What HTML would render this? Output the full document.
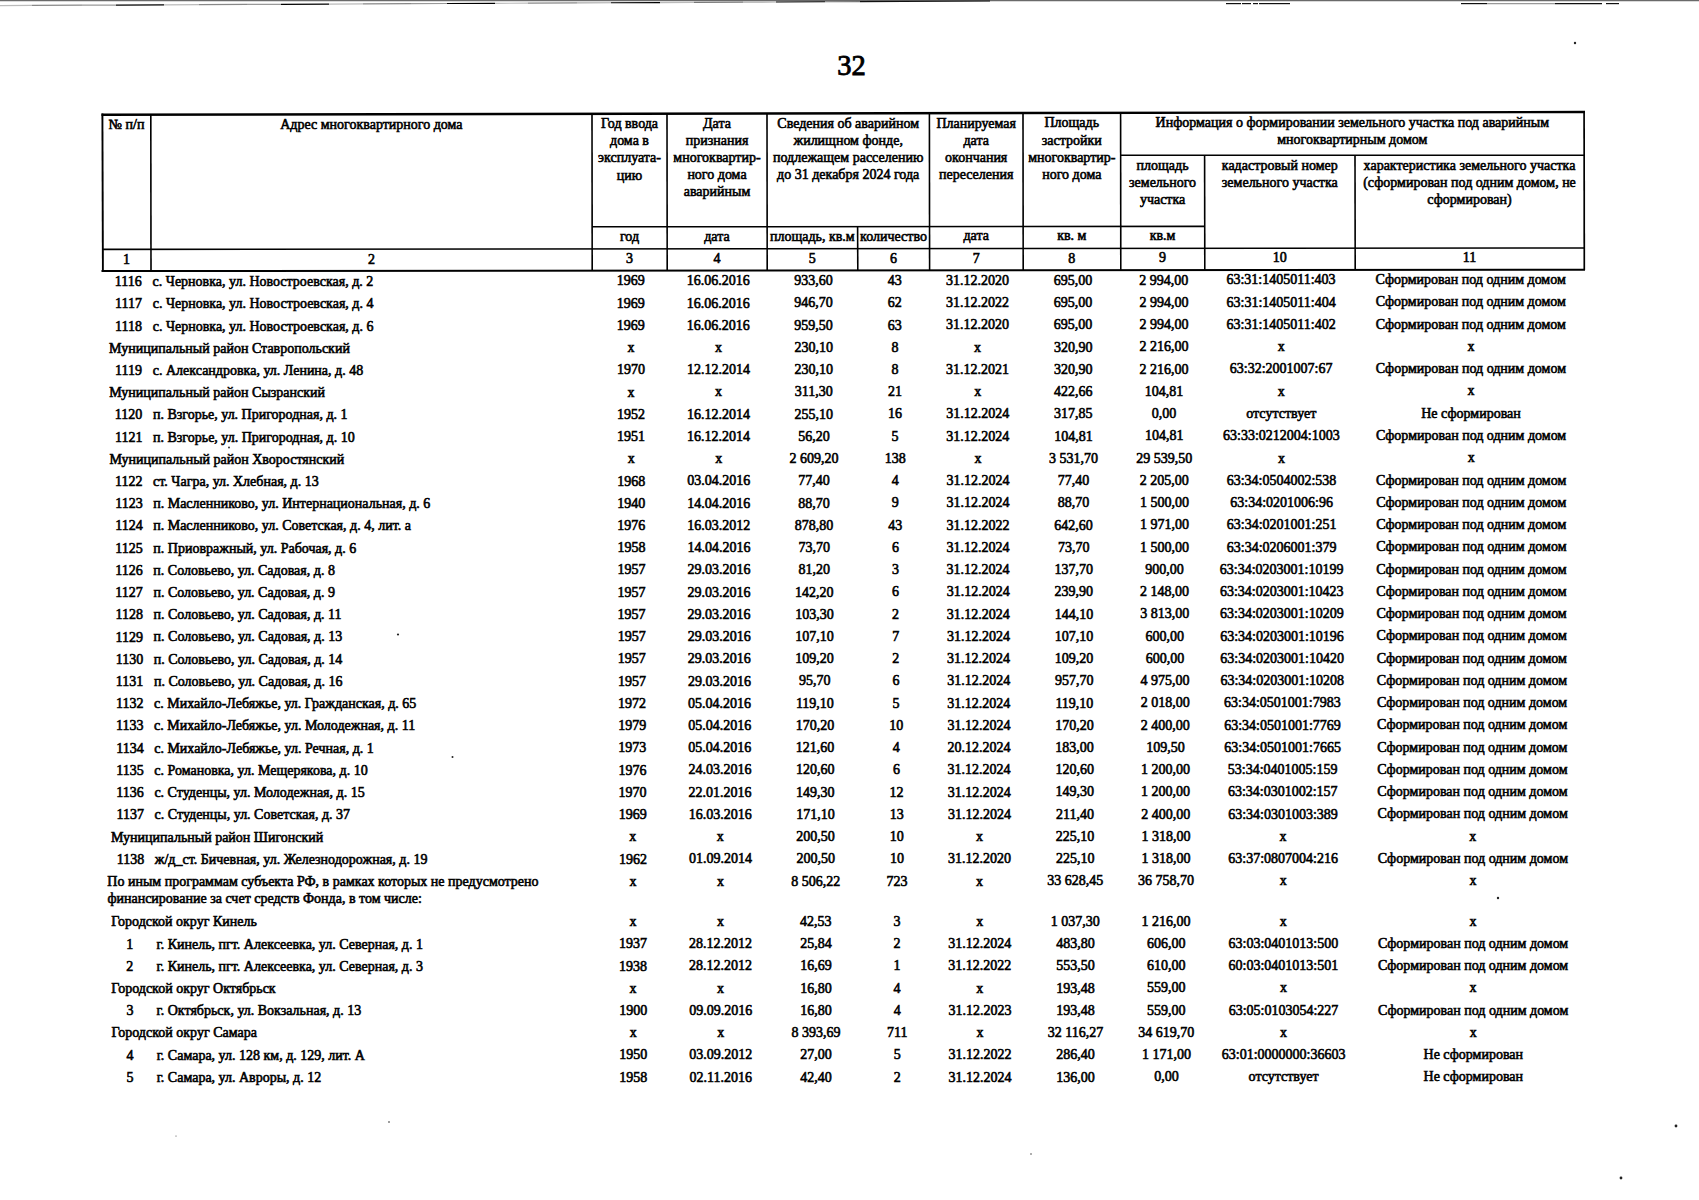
<!DOCTYPE html>
<html><head><meta charset="utf-8"><style>
html,body{margin:0;padding:0;background:#fff;}
body{width:1699px;height:1200px;position:relative;overflow:hidden;font-family:"Liberation Serif",serif;color:#000;}
.t{position:absolute;white-space:nowrap;font-size:14px;line-height:14px;-webkit-text-stroke:0.6px #000;}
.t.h{font-size:14px;line-height:14px;}
.s{position:absolute;left:0;top:0;}
.pg{position:absolute;left:801.5px;top:51.5px;width:100px;text-align:center;font-size:28.5px;line-height:28px;-webkit-text-stroke:0.9px #000;}
</style></head><body>
<div class="pg">32</div>
<svg class="s" width="1699" height="1200" viewBox="0 0 1699 1200"><line x1="0" y1="0.6" x2="1699" y2="0.6" stroke="#6a6a6a" stroke-width="1.2"/><line x1="0" y1="5.60" x2="32" y2="5.45" stroke="#bbb" stroke-width="1.2"/><line x1="32" y1="5.45" x2="82" y2="5.22" stroke="#888" stroke-width="1.2"/><line x1="82" y1="5.22" x2="116" y2="5.06" stroke="#999" stroke-width="1.2"/><line x1="116" y1="5.06" x2="164" y2="4.84" stroke="#000" stroke-width="1.2"/><line x1="164" y1="4.84" x2="199" y2="4.68" stroke="#bbb" stroke-width="1.2"/><line x1="199" y1="4.68" x2="247" y2="4.45" stroke="#888" stroke-width="1.2"/><line x1="247" y1="4.45" x2="281" y2="4.29" stroke="#999" stroke-width="1.2"/><line x1="281" y1="4.29" x2="329" y2="4.07" stroke="#000" stroke-width="1.2"/><line x1="329" y1="4.07" x2="363" y2="3.91" stroke="#bbb" stroke-width="1.2"/><line x1="363" y1="3.91" x2="411" y2="3.69" stroke="#888" stroke-width="1.2"/><line x1="411" y1="3.69" x2="447" y2="3.52" stroke="#999" stroke-width="1.2"/><line x1="447" y1="3.52" x2="495" y2="3.30" stroke="#000" stroke-width="1.2"/><line x1="495" y1="3.30" x2="528" y2="3.15" stroke="#bbb" stroke-width="1.2"/><line x1="528" y1="3.15" x2="577" y2="2.92" stroke="#888" stroke-width="1.2"/><line x1="577" y1="2.92" x2="611" y2="2.76" stroke="#aaa" stroke-width="1.2"/><line x1="611" y1="2.76" x2="660" y2="2.53" stroke="#000" stroke-width="1.2"/><line x1="660" y1="2.53" x2="694" y2="2.38" stroke="#bbb" stroke-width="1.2"/><line x1="694" y1="2.38" x2="743" y2="2.15" stroke="#777" stroke-width="1.2"/><line x1="743" y1="2.15" x2="776" y2="1.99" stroke="#aaa" stroke-width="1.2"/><line x1="776" y1="1.99" x2="825" y2="1.77" stroke="#000" stroke-width="1.2"/><line x1="825" y1="1.77" x2="860" y2="1.60" stroke="#777" stroke-width="1.2"/><line x1="860" y1="1.60" x2="990" y2="1.00" stroke="#111" stroke-width="1.2"/><line x1="1226" y1="3.6" x2="1241" y2="3.6" stroke="#111" stroke-width="1.2"/><line x1="1242" y1="3.6" x2="1251" y2="3.6" stroke="#111" stroke-width="1.2"/><line x1="1253" y1="3.6" x2="1258" y2="3.6" stroke="#111" stroke-width="1.2"/><line x1="1259" y1="3.6" x2="1290" y2="3.6" stroke="#111" stroke-width="1.2"/><line x1="1461" y1="3.6" x2="1487" y2="3.6" stroke="#111" stroke-width="1.2"/><line x1="1487" y1="3.6" x2="1555" y2="3.6" stroke="#999" stroke-width="1.2"/><line x1="1555" y1="3.6" x2="1602" y2="3.6" stroke="#111" stroke-width="1.2"/><line x1="1606" y1="3.6" x2="1619" y2="3.6" stroke="#111" stroke-width="1.2"/><circle cx="1575" cy="43" r="1.2" fill="#222"/><circle cx="398" cy="634.5" r="1.1" fill="#222"/><circle cx="452.5" cy="757" r="1.0" fill="#222"/><circle cx="1498" cy="898" r="1.2" fill="#222"/><circle cx="1676" cy="1126" r="1.4" fill="#222"/><circle cx="1621" cy="1178" r="1.4" fill="#222"/><circle cx="1031" cy="1154" r="0.7" fill="#222"/><circle cx="389" cy="1122" r="0.8" fill="#222"/><circle cx="176" cy="1136" r="0.5" fill="#222"/><circle cx="229" cy="447.5" r="0.9" fill="#222"/><line x1="101.50" y1="114.75" x2="1585.00" y2="112.00" stroke="#000" stroke-width="2.4"/><line x1="101.50" y1="271.10" x2="1585.00" y2="269.70" stroke="#000" stroke-width="2.0"/><line x1="102.40" y1="249.40" x2="1584.00" y2="248.00" stroke="#000" stroke-width="1.6"/><line x1="592.00" y1="226.80" x2="1204.60" y2="226.40" stroke="#000" stroke-width="1.6"/><line x1="1120.60" y1="155.30" x2="1584.00" y2="155.20" stroke="#000" stroke-width="1.6"/><line x1="102.40" y1="113.50" x2="102.90" y2="271.50" stroke="#000" stroke-width="1.9"/><line x1="1584.10" y1="112.00" x2="1584.30" y2="270.00" stroke="#000" stroke-width="1.7"/><line x1="150.80" y1="114.79" x2="151.00" y2="271.05" stroke="#000" stroke-width="1.6"/><line x1="592.00" y1="113.97" x2="592.20" y2="270.64" stroke="#000" stroke-width="1.6"/><line x1="667.00" y1="113.83" x2="667.20" y2="270.57" stroke="#000" stroke-width="1.6"/><line x1="767.00" y1="113.64" x2="767.20" y2="270.47" stroke="#000" stroke-width="1.6"/><line x1="857.60" y1="226.60" x2="857.80" y2="270.39" stroke="#000" stroke-width="1.6"/><line x1="929.40" y1="113.34" x2="929.60" y2="270.32" stroke="#000" stroke-width="1.6"/><line x1="1023.00" y1="113.17" x2="1023.20" y2="270.23" stroke="#000" stroke-width="1.6"/><line x1="1120.60" y1="112.98" x2="1120.80" y2="270.14" stroke="#000" stroke-width="1.6"/><line x1="1204.60" y1="155.30" x2="1204.80" y2="270.06" stroke="#000" stroke-width="1.6"/><line x1="1355.00" y1="155.30" x2="1355.20" y2="269.92" stroke="#000" stroke-width="1.6"/></svg>
<div class="t h" style="left:-73.4px;top:118.1px;width:400px;text-align:center">№ п/п</div>
<div class="t h" style="left:171.4px;top:117.6px;width:400px;text-align:center">Адрес многоквартирного дома</div>
<div class="t h" style="left:429.5px;top:117.2px;width:400px;text-align:center">Год ввода</div>
<div class="t h" style="left:429.5px;top:134.3px;width:400px;text-align:center">дома в</div>
<div class="t h" style="left:429.5px;top:151.4px;width:400px;text-align:center">эксплуата-</div>
<div class="t h" style="left:429.5px;top:168.5px;width:400px;text-align:center">цию</div>
<div class="t h" style="left:517.0px;top:117.0px;width:400px;text-align:center">Дата</div>
<div class="t h" style="left:517.0px;top:134.1px;width:400px;text-align:center">признания</div>
<div class="t h" style="left:517.0px;top:151.2px;width:400px;text-align:center">многоквартир-</div>
<div class="t h" style="left:517.0px;top:168.3px;width:400px;text-align:center">ного дома</div>
<div class="t h" style="left:517.0px;top:185.4px;width:400px;text-align:center">аварийным</div>
<div class="t h" style="left:648.2px;top:116.8px;width:400px;text-align:center">Сведения об аварийном</div>
<div class="t h" style="left:648.2px;top:133.9px;width:400px;text-align:center">жилищном фонде,</div>
<div class="t h" style="left:648.2px;top:151.0px;width:400px;text-align:center">подлежащем расселению</div>
<div class="t h" style="left:648.2px;top:168.1px;width:400px;text-align:center">до 31 декабря 2024 года</div>
<div class="t h" style="left:776.2px;top:116.5px;width:400px;text-align:center">Планируемая</div>
<div class="t h" style="left:776.2px;top:133.6px;width:400px;text-align:center">дата</div>
<div class="t h" style="left:776.2px;top:150.7px;width:400px;text-align:center">окончания</div>
<div class="t h" style="left:776.2px;top:167.8px;width:400px;text-align:center">переселения</div>
<div class="t h" style="left:871.8px;top:116.4px;width:400px;text-align:center">Площадь</div>
<div class="t h" style="left:871.8px;top:133.5px;width:400px;text-align:center">застройки</div>
<div class="t h" style="left:871.8px;top:150.6px;width:400px;text-align:center">многоквартир-</div>
<div class="t h" style="left:871.8px;top:167.7px;width:400px;text-align:center">ного дома</div>
<div class="t h" style="left:1152.3px;top:115.8px;width:400px;text-align:center">Информация о формировании земельного участка под аварийным</div>
<div class="t h" style="left:1152.3px;top:132.9px;width:400px;text-align:center">многоквартирным домом</div>
<div class="t h" style="left:962.6px;top:159.0px;width:400px;text-align:center">площадь</div>
<div class="t h" style="left:962.6px;top:176.1px;width:400px;text-align:center">земельного</div>
<div class="t h" style="left:962.6px;top:193.2px;width:400px;text-align:center">участка</div>
<div class="t h" style="left:1079.8px;top:158.8px;width:400px;text-align:center">кадастровый номер</div>
<div class="t h" style="left:1079.8px;top:175.9px;width:400px;text-align:center">земельного участка</div>
<div class="t h" style="left:1269.5px;top:158.5px;width:400px;text-align:center">характеристика земельного участка</div>
<div class="t h" style="left:1269.5px;top:175.6px;width:400px;text-align:center">(сформирован под одним домом, не</div>
<div class="t h" style="left:1269.5px;top:192.7px;width:400px;text-align:center">сформирован)</div>
<div class="t h" style="left:429.5px;top:230.0px;width:400px;text-align:center">год</div>
<div class="t h" style="left:517.0px;top:229.9px;width:400px;text-align:center">дата</div>
<div class="t h" style="left:612.3px;top:229.7px;width:400px;text-align:center">площадь, кв.м</div>
<div class="t h" style="left:693.5px;top:229.6px;width:400px;text-align:center">количество</div>
<div class="t h" style="left:776.2px;top:229.4px;width:400px;text-align:center">дата</div>
<div class="t h" style="left:871.8px;top:229.3px;width:400px;text-align:center">кв. м</div>
<div class="t h" style="left:962.6px;top:229.1px;width:400px;text-align:center">кв.м</div>
<div class="t h" style="left:-73.4px;top:253.1px;width:400px;text-align:center">1</div>
<div class="t h" style="left:171.4px;top:252.7px;width:400px;text-align:center">2</div>
<div class="t h" style="left:429.5px;top:252.2px;width:400px;text-align:center">3</div>
<div class="t h" style="left:517.0px;top:252.1px;width:400px;text-align:center">4</div>
<div class="t h" style="left:612.3px;top:251.9px;width:400px;text-align:center">5</div>
<div class="t h" style="left:693.5px;top:251.8px;width:400px;text-align:center">6</div>
<div class="t h" style="left:776.2px;top:251.7px;width:400px;text-align:center">7</div>
<div class="t h" style="left:871.8px;top:251.5px;width:400px;text-align:center">8</div>
<div class="t h" style="left:962.6px;top:251.3px;width:400px;text-align:center">9</div>
<div class="t h" style="left:1079.8px;top:251.1px;width:400px;text-align:center">10</div>
<div class="t h" style="left:1269.5px;top:250.8px;width:400px;text-align:center">11</div>
<div class="t" style="left:-71.7px;top:275.2px;width:400px;text-align:center">1116</div>
<div class="t" style="left:152.6px;top:275.0px">с. Черновка, ул. Новостроевская, д. 2</div>
<div class="t" style="left:430.7px;top:274.4px;width:400px;text-align:center">1969</div>
<div class="t" style="left:518.2px;top:274.3px;width:400px;text-align:center">16.06.2016</div>
<div class="t" style="left:613.5px;top:274.1px;width:400px;text-align:center">933,60</div>
<div class="t" style="left:694.7px;top:274.0px;width:400px;text-align:center">43</div>
<div class="t" style="left:777.4px;top:273.9px;width:400px;text-align:center">31.12.2020</div>
<div class="t" style="left:873.0px;top:273.7px;width:400px;text-align:center">695,00</div>
<div class="t" style="left:963.8px;top:273.5px;width:400px;text-align:center">2 994,00</div>
<div class="t" style="left:1081.0px;top:273.4px;width:400px;text-align:center">63:31:1405011:403</div>
<div class="t" style="left:1270.7px;top:273.0px;width:400px;text-align:center">Сформирован под одним домом</div>
<div class="t" style="left:-71.6px;top:297.4px;width:400px;text-align:center">1117</div>
<div class="t" style="left:152.7px;top:297.3px">с. Черновка, ул. Новостроевская, д. 4</div>
<div class="t" style="left:430.8px;top:296.7px;width:400px;text-align:center">1969</div>
<div class="t" style="left:518.3px;top:296.5px;width:400px;text-align:center">16.06.2016</div>
<div class="t" style="left:613.6px;top:296.4px;width:400px;text-align:center">946,70</div>
<div class="t" style="left:694.8px;top:296.2px;width:400px;text-align:center">62</div>
<div class="t" style="left:777.5px;top:296.1px;width:400px;text-align:center">31.12.2022</div>
<div class="t" style="left:873.1px;top:296.0px;width:400px;text-align:center">695,00</div>
<div class="t" style="left:963.9px;top:295.8px;width:400px;text-align:center">2 994,00</div>
<div class="t" style="left:1081.1px;top:295.6px;width:400px;text-align:center">63:31:1405011:404</div>
<div class="t" style="left:1270.8px;top:295.3px;width:400px;text-align:center">Сформирован под одним домом</div>
<div class="t" style="left:-71.6px;top:319.6px;width:400px;text-align:center">1118</div>
<div class="t" style="left:152.7px;top:319.5px">с. Черновка, ул. Новостроевская, д. 6</div>
<div class="t" style="left:430.8px;top:318.9px;width:400px;text-align:center">1969</div>
<div class="t" style="left:518.3px;top:318.7px;width:400px;text-align:center">16.06.2016</div>
<div class="t" style="left:613.6px;top:318.6px;width:400px;text-align:center">959,50</div>
<div class="t" style="left:694.8px;top:318.5px;width:400px;text-align:center">63</div>
<div class="t" style="left:777.5px;top:318.3px;width:400px;text-align:center">31.12.2020</div>
<div class="t" style="left:873.1px;top:318.2px;width:400px;text-align:center">695,00</div>
<div class="t" style="left:963.9px;top:318.1px;width:400px;text-align:center">2 994,00</div>
<div class="t" style="left:1081.1px;top:317.9px;width:400px;text-align:center">63:31:1405011:402</div>
<div class="t" style="left:1270.8px;top:317.6px;width:400px;text-align:center">Сформирован под одним домом</div>
<div class="t" style="left:109.1px;top:341.7px">Муниципальный район Ставропольский</div>
<div class="t" style="left:430.9px;top:341.1px;width:400px;text-align:center">x</div>
<div class="t" style="left:518.4px;top:341.0px;width:400px;text-align:center">x</div>
<div class="t" style="left:613.7px;top:340.8px;width:400px;text-align:center">230,10</div>
<div class="t" style="left:694.9px;top:340.7px;width:400px;text-align:center">8</div>
<div class="t" style="left:777.6px;top:340.6px;width:400px;text-align:center">x</div>
<div class="t" style="left:873.2px;top:340.5px;width:400px;text-align:center">320,90</div>
<div class="t" style="left:964.0px;top:340.3px;width:400px;text-align:center">2 216,00</div>
<div class="t" style="left:1081.2px;top:340.2px;width:400px;text-align:center">x</div>
<div class="t" style="left:1270.9px;top:339.9px;width:400px;text-align:center">x</div>
<div class="t" style="left:-71.5px;top:364.0px;width:400px;text-align:center">1119</div>
<div class="t" style="left:152.8px;top:363.9px">с. Александровка, ул. Ленина, д. 48</div>
<div class="t" style="left:430.9px;top:363.3px;width:400px;text-align:center">1970</div>
<div class="t" style="left:518.4px;top:363.2px;width:400px;text-align:center">12.12.2014</div>
<div class="t" style="left:613.7px;top:363.1px;width:400px;text-align:center">230,10</div>
<div class="t" style="left:694.9px;top:363.0px;width:400px;text-align:center">8</div>
<div class="t" style="left:777.6px;top:362.8px;width:400px;text-align:center">31.12.2021</div>
<div class="t" style="left:873.2px;top:362.7px;width:400px;text-align:center">320,90</div>
<div class="t" style="left:964.0px;top:362.6px;width:400px;text-align:center">2 216,00</div>
<div class="t" style="left:1081.2px;top:362.4px;width:400px;text-align:center">63:32:2001007:67</div>
<div class="t" style="left:1270.9px;top:362.2px;width:400px;text-align:center">Сформирован под одним домом</div>
<div class="t" style="left:109.2px;top:386.1px">Муниципальный район Сызранский</div>
<div class="t" style="left:431.0px;top:385.6px;width:400px;text-align:center">x</div>
<div class="t" style="left:518.5px;top:385.4px;width:400px;text-align:center">x</div>
<div class="t" style="left:613.8px;top:385.3px;width:400px;text-align:center">311,30</div>
<div class="t" style="left:695.0px;top:385.2px;width:400px;text-align:center">21</div>
<div class="t" style="left:777.7px;top:385.1px;width:400px;text-align:center">x</div>
<div class="t" style="left:873.3px;top:385.0px;width:400px;text-align:center">422,66</div>
<div class="t" style="left:964.1px;top:384.8px;width:400px;text-align:center">104,81</div>
<div class="t" style="left:1081.3px;top:384.7px;width:400px;text-align:center">x</div>
<div class="t" style="left:1271.0px;top:384.4px;width:400px;text-align:center">x</div>
<div class="t" style="left:-71.4px;top:408.4px;width:400px;text-align:center">1120</div>
<div class="t" style="left:152.9px;top:408.3px">п. Взгорье, ул. Пригородная, д. 1</div>
<div class="t" style="left:431.0px;top:407.8px;width:400px;text-align:center">1952</div>
<div class="t" style="left:518.5px;top:407.7px;width:400px;text-align:center">16.12.2014</div>
<div class="t" style="left:613.8px;top:407.6px;width:400px;text-align:center">255,10</div>
<div class="t" style="left:695.0px;top:407.4px;width:400px;text-align:center">16</div>
<div class="t" style="left:777.7px;top:407.3px;width:400px;text-align:center">31.12.2024</div>
<div class="t" style="left:873.3px;top:407.2px;width:400px;text-align:center">317,85</div>
<div class="t" style="left:964.1px;top:407.1px;width:400px;text-align:center">0,00</div>
<div class="t" style="left:1081.3px;top:406.9px;width:400px;text-align:center">отсутствует</div>
<div class="t" style="left:1271.0px;top:406.7px;width:400px;text-align:center">Не сформирован</div>
<div class="t" style="left:-71.3px;top:430.6px;width:400px;text-align:center">1121</div>
<div class="t" style="left:153.0px;top:430.5px">п. Взгорье, ул. Пригородная, д. 10</div>
<div class="t" style="left:431.1px;top:430.0px;width:400px;text-align:center">1951</div>
<div class="t" style="left:518.6px;top:429.9px;width:400px;text-align:center">16.12.2014</div>
<div class="t" style="left:613.9px;top:429.8px;width:400px;text-align:center">56,20</div>
<div class="t" style="left:695.1px;top:429.7px;width:400px;text-align:center">5</div>
<div class="t" style="left:777.8px;top:429.6px;width:400px;text-align:center">31.12.2024</div>
<div class="t" style="left:873.4px;top:429.5px;width:400px;text-align:center">104,81</div>
<div class="t" style="left:964.2px;top:429.4px;width:400px;text-align:center">104,81</div>
<div class="t" style="left:1081.4px;top:429.2px;width:400px;text-align:center">63:33:0212004:1003</div>
<div class="t" style="left:1271.1px;top:429.0px;width:400px;text-align:center">Сформирован под одним домом</div>
<div class="t" style="left:109.4px;top:452.7px">Муниципальный район Хворостянский</div>
<div class="t" style="left:431.2px;top:452.2px;width:400px;text-align:center">x</div>
<div class="t" style="left:518.7px;top:452.1px;width:400px;text-align:center">x</div>
<div class="t" style="left:614.0px;top:452.0px;width:400px;text-align:center">2 609,20</div>
<div class="t" style="left:695.2px;top:451.9px;width:400px;text-align:center">138</div>
<div class="t" style="left:777.9px;top:451.8px;width:400px;text-align:center">x</div>
<div class="t" style="left:873.5px;top:451.7px;width:400px;text-align:center">3 531,70</div>
<div class="t" style="left:964.3px;top:451.6px;width:400px;text-align:center">29 539,50</div>
<div class="t" style="left:1081.5px;top:451.5px;width:400px;text-align:center">x</div>
<div class="t" style="left:1271.2px;top:451.3px;width:400px;text-align:center">x</div>
<div class="t" style="left:-71.2px;top:475.0px;width:400px;text-align:center">1122</div>
<div class="t" style="left:153.1px;top:474.9px">ст. Чагра, ул. Хлебная, д. 13</div>
<div class="t" style="left:431.2px;top:474.5px;width:400px;text-align:center">1968</div>
<div class="t" style="left:518.7px;top:474.4px;width:400px;text-align:center">03.04.2016</div>
<div class="t" style="left:614.0px;top:474.3px;width:400px;text-align:center">77,40</div>
<div class="t" style="left:695.2px;top:474.2px;width:400px;text-align:center">4</div>
<div class="t" style="left:777.9px;top:474.1px;width:400px;text-align:center">31.12.2024</div>
<div class="t" style="left:873.5px;top:474.0px;width:400px;text-align:center">77,40</div>
<div class="t" style="left:964.3px;top:473.9px;width:400px;text-align:center">2 205,00</div>
<div class="t" style="left:1081.5px;top:473.7px;width:400px;text-align:center">63:34:0504002:538</div>
<div class="t" style="left:1271.2px;top:473.5px;width:400px;text-align:center">Сформирован под одним домом</div>
<div class="t" style="left:-71.1px;top:497.2px;width:400px;text-align:center">1123</div>
<div class="t" style="left:153.2px;top:497.1px">п. Масленниково, ул. Интернациональная, д. 6</div>
<div class="t" style="left:431.3px;top:496.7px;width:400px;text-align:center">1940</div>
<div class="t" style="left:518.8px;top:496.6px;width:400px;text-align:center">14.04.2016</div>
<div class="t" style="left:614.1px;top:496.5px;width:400px;text-align:center">88,70</div>
<div class="t" style="left:695.3px;top:496.4px;width:400px;text-align:center">9</div>
<div class="t" style="left:778.0px;top:496.3px;width:400px;text-align:center">31.12.2024</div>
<div class="t" style="left:873.6px;top:496.2px;width:400px;text-align:center">88,70</div>
<div class="t" style="left:964.4px;top:496.1px;width:400px;text-align:center">1 500,00</div>
<div class="t" style="left:1081.6px;top:496.0px;width:400px;text-align:center">63:34:0201006:96</div>
<div class="t" style="left:1271.3px;top:495.8px;width:400px;text-align:center">Сформирован под одним домом</div>
<div class="t" style="left:-71.1px;top:519.4px;width:400px;text-align:center">1124</div>
<div class="t" style="left:153.2px;top:519.3px">п. Масленниково, ул. Советская, д. 4, лит. а</div>
<div class="t" style="left:431.3px;top:518.9px;width:400px;text-align:center">1976</div>
<div class="t" style="left:518.8px;top:518.8px;width:400px;text-align:center">16.03.2012</div>
<div class="t" style="left:614.1px;top:518.7px;width:400px;text-align:center">878,80</div>
<div class="t" style="left:695.3px;top:518.7px;width:400px;text-align:center">43</div>
<div class="t" style="left:778.0px;top:518.6px;width:400px;text-align:center">31.12.2022</div>
<div class="t" style="left:873.6px;top:518.5px;width:400px;text-align:center">642,60</div>
<div class="t" style="left:964.4px;top:518.4px;width:400px;text-align:center">1 971,00</div>
<div class="t" style="left:1081.6px;top:518.3px;width:400px;text-align:center">63:34:0201001:251</div>
<div class="t" style="left:1271.3px;top:518.1px;width:400px;text-align:center">Сформирован под одним домом</div>
<div class="t" style="left:-71.0px;top:541.6px;width:400px;text-align:center">1125</div>
<div class="t" style="left:153.3px;top:541.5px">п. Приовражный, ул. Рабочая, д. 6</div>
<div class="t" style="left:431.4px;top:541.2px;width:400px;text-align:center">1958</div>
<div class="t" style="left:518.9px;top:541.1px;width:400px;text-align:center">14.04.2016</div>
<div class="t" style="left:614.2px;top:541.0px;width:400px;text-align:center">73,70</div>
<div class="t" style="left:695.4px;top:540.9px;width:400px;text-align:center">6</div>
<div class="t" style="left:778.1px;top:540.8px;width:400px;text-align:center">31.12.2024</div>
<div class="t" style="left:873.7px;top:540.7px;width:400px;text-align:center">73,70</div>
<div class="t" style="left:964.5px;top:540.7px;width:400px;text-align:center">1 500,00</div>
<div class="t" style="left:1081.7px;top:540.5px;width:400px;text-align:center">63:34:0206001:379</div>
<div class="t" style="left:1271.4px;top:540.4px;width:400px;text-align:center">Сформирован под одним домом</div>
<div class="t" style="left:-71.0px;top:563.8px;width:400px;text-align:center">1126</div>
<div class="t" style="left:153.3px;top:563.7px">п. Соловьево, ул. Садовая, д. 8</div>
<div class="t" style="left:431.4px;top:563.4px;width:400px;text-align:center">1957</div>
<div class="t" style="left:518.9px;top:563.3px;width:400px;text-align:center">29.03.2016</div>
<div class="t" style="left:614.2px;top:563.2px;width:400px;text-align:center">81,20</div>
<div class="t" style="left:695.4px;top:563.1px;width:400px;text-align:center">3</div>
<div class="t" style="left:778.1px;top:563.1px;width:400px;text-align:center">31.12.2024</div>
<div class="t" style="left:873.7px;top:563.0px;width:400px;text-align:center">137,70</div>
<div class="t" style="left:964.5px;top:562.9px;width:400px;text-align:center">900,00</div>
<div class="t" style="left:1081.7px;top:562.8px;width:400px;text-align:center">63:34:0203001:10199</div>
<div class="t" style="left:1271.4px;top:562.6px;width:400px;text-align:center">Сформирован под одним домом</div>
<div class="t" style="left:-70.9px;top:586.0px;width:400px;text-align:center">1127</div>
<div class="t" style="left:153.4px;top:585.9px">п. Соловьево, ул. Садовая, д. 9</div>
<div class="t" style="left:431.5px;top:585.6px;width:400px;text-align:center">1957</div>
<div class="t" style="left:519.0px;top:585.5px;width:400px;text-align:center">29.03.2016</div>
<div class="t" style="left:614.3px;top:585.5px;width:400px;text-align:center">142,20</div>
<div class="t" style="left:695.5px;top:585.4px;width:400px;text-align:center">6</div>
<div class="t" style="left:778.2px;top:585.3px;width:400px;text-align:center">31.12.2024</div>
<div class="t" style="left:873.8px;top:585.2px;width:400px;text-align:center">239,90</div>
<div class="t" style="left:964.6px;top:585.2px;width:400px;text-align:center">2 148,00</div>
<div class="t" style="left:1081.8px;top:585.1px;width:400px;text-align:center">63:34:0203001:10423</div>
<div class="t" style="left:1271.5px;top:584.9px;width:400px;text-align:center">Сформирован под одним домом</div>
<div class="t" style="left:-70.8px;top:608.3px;width:400px;text-align:center">1128</div>
<div class="t" style="left:153.5px;top:608.2px">п. Соловьево, ул. Садовая, д. 11</div>
<div class="t" style="left:431.6px;top:607.8px;width:400px;text-align:center">1957</div>
<div class="t" style="left:519.1px;top:607.8px;width:400px;text-align:center">29.03.2016</div>
<div class="t" style="left:614.4px;top:607.7px;width:400px;text-align:center">103,30</div>
<div class="t" style="left:695.6px;top:607.6px;width:400px;text-align:center">2</div>
<div class="t" style="left:778.3px;top:607.6px;width:400px;text-align:center">31.12.2024</div>
<div class="t" style="left:873.9px;top:607.5px;width:400px;text-align:center">144,10</div>
<div class="t" style="left:964.7px;top:607.4px;width:400px;text-align:center">3 813,00</div>
<div class="t" style="left:1081.9px;top:607.3px;width:400px;text-align:center">63:34:0203001:10209</div>
<div class="t" style="left:1271.6px;top:607.2px;width:400px;text-align:center">Сформирован под одним домом</div>
<div class="t" style="left:-70.7px;top:630.5px;width:400px;text-align:center">1129</div>
<div class="t" style="left:153.6px;top:630.4px">п. Соловьево, ул. Садовая, д. 13</div>
<div class="t" style="left:431.7px;top:630.1px;width:400px;text-align:center">1957</div>
<div class="t" style="left:519.2px;top:630.0px;width:400px;text-align:center">29.03.2016</div>
<div class="t" style="left:614.5px;top:629.9px;width:400px;text-align:center">107,10</div>
<div class="t" style="left:695.7px;top:629.9px;width:400px;text-align:center">7</div>
<div class="t" style="left:778.4px;top:629.8px;width:400px;text-align:center">31.12.2024</div>
<div class="t" style="left:874.0px;top:629.7px;width:400px;text-align:center">107,10</div>
<div class="t" style="left:964.8px;top:629.7px;width:400px;text-align:center">600,00</div>
<div class="t" style="left:1082.0px;top:629.6px;width:400px;text-align:center">63:34:0203001:10196</div>
<div class="t" style="left:1271.7px;top:629.4px;width:400px;text-align:center">Сформирован под одним домом</div>
<div class="t" style="left:-70.6px;top:652.7px;width:400px;text-align:center">1130</div>
<div class="t" style="left:153.7px;top:652.6px">п. Соловьево, ул. Садовая, д. 14</div>
<div class="t" style="left:431.8px;top:652.3px;width:400px;text-align:center">1957</div>
<div class="t" style="left:519.3px;top:652.3px;width:400px;text-align:center">29.03.2016</div>
<div class="t" style="left:614.6px;top:652.2px;width:400px;text-align:center">109,20</div>
<div class="t" style="left:695.8px;top:652.1px;width:400px;text-align:center">2</div>
<div class="t" style="left:778.5px;top:652.1px;width:400px;text-align:center">31.12.2024</div>
<div class="t" style="left:874.1px;top:652.0px;width:400px;text-align:center">109,20</div>
<div class="t" style="left:964.9px;top:651.9px;width:400px;text-align:center">600,00</div>
<div class="t" style="left:1082.1px;top:651.8px;width:400px;text-align:center">63:34:0203001:10420</div>
<div class="t" style="left:1271.8px;top:651.7px;width:400px;text-align:center">Сформирован под одним домом</div>
<div class="t" style="left:-70.4px;top:674.9px;width:400px;text-align:center">1131</div>
<div class="t" style="left:153.9px;top:674.8px">п. Соловьево, ул. Садовая, д. 16</div>
<div class="t" style="left:432.0px;top:674.6px;width:400px;text-align:center">1957</div>
<div class="t" style="left:519.5px;top:674.5px;width:400px;text-align:center">29.03.2016</div>
<div class="t" style="left:614.8px;top:674.4px;width:400px;text-align:center">95,70</div>
<div class="t" style="left:696.0px;top:674.4px;width:400px;text-align:center">6</div>
<div class="t" style="left:778.7px;top:674.3px;width:400px;text-align:center">31.12.2024</div>
<div class="t" style="left:874.3px;top:674.2px;width:400px;text-align:center">957,70</div>
<div class="t" style="left:965.1px;top:674.1px;width:400px;text-align:center">4 975,00</div>
<div class="t" style="left:1082.3px;top:674.1px;width:400px;text-align:center">63:34:0203001:10208</div>
<div class="t" style="left:1272.0px;top:673.9px;width:400px;text-align:center">Сформирован под одним домом</div>
<div class="t" style="left:-70.3px;top:697.2px;width:400px;text-align:center">1132</div>
<div class="t" style="left:154.0px;top:697.1px">с. Михайло-Лебяжье, ул. Гражданская, д. 65</div>
<div class="t" style="left:432.1px;top:696.8px;width:400px;text-align:center">1972</div>
<div class="t" style="left:519.6px;top:696.7px;width:400px;text-align:center">05.04.2016</div>
<div class="t" style="left:614.9px;top:696.7px;width:400px;text-align:center">119,10</div>
<div class="t" style="left:696.1px;top:696.6px;width:400px;text-align:center">5</div>
<div class="t" style="left:778.8px;top:696.5px;width:400px;text-align:center">31.12.2024</div>
<div class="t" style="left:874.4px;top:696.5px;width:400px;text-align:center">119,10</div>
<div class="t" style="left:965.2px;top:696.4px;width:400px;text-align:center">2 018,00</div>
<div class="t" style="left:1082.4px;top:696.3px;width:400px;text-align:center">63:34:0501001:7983</div>
<div class="t" style="left:1272.1px;top:696.2px;width:400px;text-align:center">Сформирован под одним домом</div>
<div class="t" style="left:-70.2px;top:719.4px;width:400px;text-align:center">1133</div>
<div class="t" style="left:154.1px;top:719.3px">с. Михайло-Лебяжье, ул. Молодежная, д. 11</div>
<div class="t" style="left:432.2px;top:719.0px;width:400px;text-align:center">1979</div>
<div class="t" style="left:519.7px;top:719.0px;width:400px;text-align:center">05.04.2016</div>
<div class="t" style="left:615.0px;top:718.9px;width:400px;text-align:center">170,20</div>
<div class="t" style="left:696.2px;top:718.8px;width:400px;text-align:center">10</div>
<div class="t" style="left:778.9px;top:718.8px;width:400px;text-align:center">31.12.2024</div>
<div class="t" style="left:874.5px;top:718.7px;width:400px;text-align:center">170,20</div>
<div class="t" style="left:965.3px;top:718.6px;width:400px;text-align:center">2 400,00</div>
<div class="t" style="left:1082.5px;top:718.6px;width:400px;text-align:center">63:34:0501001:7769</div>
<div class="t" style="left:1272.2px;top:718.4px;width:400px;text-align:center">Сформирован под одним домом</div>
<div class="t" style="left:-70.1px;top:741.6px;width:400px;text-align:center">1134</div>
<div class="t" style="left:154.2px;top:741.5px">с. Михайло-Лебяжье, ул. Речная, д. 1</div>
<div class="t" style="left:432.3px;top:741.3px;width:400px;text-align:center">1973</div>
<div class="t" style="left:519.8px;top:741.2px;width:400px;text-align:center">05.04.2016</div>
<div class="t" style="left:615.1px;top:741.1px;width:400px;text-align:center">121,60</div>
<div class="t" style="left:696.3px;top:741.1px;width:400px;text-align:center">4</div>
<div class="t" style="left:779.0px;top:741.0px;width:400px;text-align:center">20.12.2024</div>
<div class="t" style="left:874.6px;top:740.9px;width:400px;text-align:center">183,00</div>
<div class="t" style="left:965.4px;top:740.9px;width:400px;text-align:center">109,50</div>
<div class="t" style="left:1082.6px;top:740.8px;width:400px;text-align:center">63:34:0501001:7665</div>
<div class="t" style="left:1272.3px;top:740.7px;width:400px;text-align:center">Сформирован под одним домом</div>
<div class="t" style="left:-70.0px;top:763.9px;width:400px;text-align:center">1135</div>
<div class="t" style="left:154.3px;top:763.8px">с. Романовка, ул. Мещерякова, д. 10</div>
<div class="t" style="left:432.4px;top:763.5px;width:400px;text-align:center">1976</div>
<div class="t" style="left:519.9px;top:763.4px;width:400px;text-align:center">24.03.2016</div>
<div class="t" style="left:615.2px;top:763.4px;width:400px;text-align:center">120,60</div>
<div class="t" style="left:696.4px;top:763.3px;width:400px;text-align:center">6</div>
<div class="t" style="left:779.1px;top:763.3px;width:400px;text-align:center">31.12.2024</div>
<div class="t" style="left:874.7px;top:763.2px;width:400px;text-align:center">120,60</div>
<div class="t" style="left:965.5px;top:763.1px;width:400px;text-align:center">1 200,00</div>
<div class="t" style="left:1082.7px;top:763.0px;width:400px;text-align:center">53:34:0401005:159</div>
<div class="t" style="left:1272.4px;top:762.9px;width:400px;text-align:center">Сформирован под одним домом</div>
<div class="t" style="left:-69.9px;top:786.1px;width:400px;text-align:center">1136</div>
<div class="t" style="left:154.4px;top:786.0px">с. Студенцы, ул. Молодежная, д. 15</div>
<div class="t" style="left:432.5px;top:785.7px;width:400px;text-align:center">1970</div>
<div class="t" style="left:520.0px;top:785.7px;width:400px;text-align:center">22.01.2016</div>
<div class="t" style="left:615.3px;top:785.6px;width:400px;text-align:center">149,30</div>
<div class="t" style="left:696.5px;top:785.6px;width:400px;text-align:center">12</div>
<div class="t" style="left:779.2px;top:785.5px;width:400px;text-align:center">31.12.2024</div>
<div class="t" style="left:874.8px;top:785.4px;width:400px;text-align:center">149,30</div>
<div class="t" style="left:965.6px;top:785.4px;width:400px;text-align:center">1 200,00</div>
<div class="t" style="left:1082.8px;top:785.3px;width:400px;text-align:center">63:34:0301002:157</div>
<div class="t" style="left:1272.5px;top:785.2px;width:400px;text-align:center">Сформирован под одним домом</div>
<div class="t" style="left:-69.7px;top:808.3px;width:400px;text-align:center">1137</div>
<div class="t" style="left:154.6px;top:808.2px">с. Студенцы, ул. Советская, д. 37</div>
<div class="t" style="left:432.7px;top:808.0px;width:400px;text-align:center">1969</div>
<div class="t" style="left:520.2px;top:807.9px;width:400px;text-align:center">16.03.2016</div>
<div class="t" style="left:615.5px;top:807.9px;width:400px;text-align:center">171,10</div>
<div class="t" style="left:696.7px;top:807.8px;width:400px;text-align:center">13</div>
<div class="t" style="left:779.4px;top:807.7px;width:400px;text-align:center">31.12.2024</div>
<div class="t" style="left:875.0px;top:807.7px;width:400px;text-align:center">211,40</div>
<div class="t" style="left:965.8px;top:807.6px;width:400px;text-align:center">2 400,00</div>
<div class="t" style="left:1083.0px;top:807.5px;width:400px;text-align:center">63:34:0301003:389</div>
<div class="t" style="left:1272.7px;top:807.4px;width:400px;text-align:center">Сформирован под одним домом</div>
<div class="t" style="left:111.0px;top:830.5px">Муниципальный район Шигонский</div>
<div class="t" style="left:432.8px;top:830.2px;width:400px;text-align:center">x</div>
<div class="t" style="left:520.3px;top:830.2px;width:400px;text-align:center">x</div>
<div class="t" style="left:615.6px;top:830.1px;width:400px;text-align:center">200,50</div>
<div class="t" style="left:696.8px;top:830.0px;width:400px;text-align:center">10</div>
<div class="t" style="left:779.5px;top:830.0px;width:400px;text-align:center">x</div>
<div class="t" style="left:875.1px;top:829.9px;width:400px;text-align:center">225,10</div>
<div class="t" style="left:965.9px;top:829.9px;width:400px;text-align:center">1 318,00</div>
<div class="t" style="left:1083.1px;top:829.8px;width:400px;text-align:center">x</div>
<div class="t" style="left:1272.8px;top:829.7px;width:400px;text-align:center">x</div>
<div class="t" style="left:-69.5px;top:852.8px;width:400px;text-align:center">1138</div>
<div class="t" style="left:154.8px;top:852.7px">ж/д_ст. Бичевная, ул. Железнодорожная, д. 19</div>
<div class="t" style="left:432.9px;top:852.5px;width:400px;text-align:center">1962</div>
<div class="t" style="left:520.4px;top:852.4px;width:400px;text-align:center">01.09.2014</div>
<div class="t" style="left:615.7px;top:852.3px;width:400px;text-align:center">200,50</div>
<div class="t" style="left:696.9px;top:852.3px;width:400px;text-align:center">10</div>
<div class="t" style="left:779.6px;top:852.2px;width:400px;text-align:center">31.12.2020</div>
<div class="t" style="left:875.2px;top:852.2px;width:400px;text-align:center">225,10</div>
<div class="t" style="left:966.0px;top:852.1px;width:400px;text-align:center">1 318,00</div>
<div class="t" style="left:1083.2px;top:852.0px;width:400px;text-align:center">63:37:0807004:216</div>
<div class="t" style="left:1272.9px;top:851.9px;width:400px;text-align:center">Сформирован под одним домом</div>
<div class="t" style="left:107.3px;top:874.9px">По иным программам субъекта РФ, в рамках которых не предусмотрено</div>
<div class="t" style="left:107.4px;top:891.6px">финансирование за счет средств Фонда, в том числе:</div>
<div class="t" style="left:432.9px;top:874.7px;width:400px;text-align:center">x</div>
<div class="t" style="left:520.4px;top:874.6px;width:400px;text-align:center">x</div>
<div class="t" style="left:615.7px;top:874.6px;width:400px;text-align:center">8 506,22</div>
<div class="t" style="left:696.9px;top:874.5px;width:400px;text-align:center">723</div>
<div class="t" style="left:779.6px;top:874.5px;width:400px;text-align:center">x</div>
<div class="t" style="left:875.2px;top:874.4px;width:400px;text-align:center">33 628,45</div>
<div class="t" style="left:966.0px;top:874.3px;width:400px;text-align:center">36 758,70</div>
<div class="t" style="left:1083.2px;top:874.3px;width:400px;text-align:center">x</div>
<div class="t" style="left:1272.9px;top:874.2px;width:400px;text-align:center">x</div>
<div class="t" style="left:111.2px;top:915.3px">Городской округ Кинель</div>
<div class="t" style="left:433.0px;top:915.0px;width:400px;text-align:center">x</div>
<div class="t" style="left:520.5px;top:915.0px;width:400px;text-align:center">x</div>
<div class="t" style="left:615.8px;top:914.9px;width:400px;text-align:center">42,53</div>
<div class="t" style="left:697.0px;top:914.9px;width:400px;text-align:center">3</div>
<div class="t" style="left:779.7px;top:914.8px;width:400px;text-align:center">x</div>
<div class="t" style="left:875.3px;top:914.8px;width:400px;text-align:center">1 037,30</div>
<div class="t" style="left:966.1px;top:914.7px;width:400px;text-align:center">1 216,00</div>
<div class="t" style="left:1083.3px;top:914.6px;width:400px;text-align:center">x</div>
<div class="t" style="left:1273.0px;top:914.5px;width:400px;text-align:center">x</div>
<div class="t" style="left:-70.2px;top:937.6px;width:400px;text-align:center">1</div>
<div class="t" style="left:156.5px;top:937.5px">г. Кинель, пгт. Алексеевка, ул. Северная, д. 1</div>
<div class="t" style="left:433.1px;top:937.3px;width:400px;text-align:center">1937</div>
<div class="t" style="left:520.6px;top:937.2px;width:400px;text-align:center">28.12.2012</div>
<div class="t" style="left:615.9px;top:937.2px;width:400px;text-align:center">25,84</div>
<div class="t" style="left:697.1px;top:937.1px;width:400px;text-align:center">2</div>
<div class="t" style="left:779.8px;top:937.1px;width:400px;text-align:center">31.12.2024</div>
<div class="t" style="left:875.4px;top:937.0px;width:400px;text-align:center">483,80</div>
<div class="t" style="left:966.2px;top:936.9px;width:400px;text-align:center">606,00</div>
<div class="t" style="left:1083.4px;top:936.9px;width:400px;text-align:center">63:03:0401013:500</div>
<div class="t" style="left:1273.1px;top:936.8px;width:400px;text-align:center">Сформирован под одним домом</div>
<div class="t" style="left:-70.2px;top:959.8px;width:400px;text-align:center">2</div>
<div class="t" style="left:156.5px;top:959.7px">г. Кинель, пгт. Алексеевка, ул. Северная, д. 3</div>
<div class="t" style="left:433.1px;top:959.5px;width:400px;text-align:center">1938</div>
<div class="t" style="left:520.6px;top:959.4px;width:400px;text-align:center">28.12.2012</div>
<div class="t" style="left:615.9px;top:959.4px;width:400px;text-align:center">16,69</div>
<div class="t" style="left:697.1px;top:959.3px;width:400px;text-align:center">1</div>
<div class="t" style="left:779.8px;top:959.3px;width:400px;text-align:center">31.12.2022</div>
<div class="t" style="left:875.4px;top:959.2px;width:400px;text-align:center">553,50</div>
<div class="t" style="left:966.2px;top:959.2px;width:400px;text-align:center">610,00</div>
<div class="t" style="left:1083.4px;top:959.1px;width:400px;text-align:center">60:03:0401013:501</div>
<div class="t" style="left:1273.1px;top:959.0px;width:400px;text-align:center">Сформирован под одним домом</div>
<div class="t" style="left:111.3px;top:982.0px">Городской округ Октябрьск</div>
<div class="t" style="left:433.1px;top:981.7px;width:400px;text-align:center">x</div>
<div class="t" style="left:520.6px;top:981.7px;width:400px;text-align:center">x</div>
<div class="t" style="left:615.9px;top:981.6px;width:400px;text-align:center">16,80</div>
<div class="t" style="left:697.1px;top:981.6px;width:400px;text-align:center">4</div>
<div class="t" style="left:779.8px;top:981.5px;width:400px;text-align:center">x</div>
<div class="t" style="left:875.4px;top:981.5px;width:400px;text-align:center">193,48</div>
<div class="t" style="left:966.2px;top:981.4px;width:400px;text-align:center">559,00</div>
<div class="t" style="left:1083.4px;top:981.4px;width:400px;text-align:center">x</div>
<div class="t" style="left:1273.1px;top:981.3px;width:400px;text-align:center">x</div>
<div class="t" style="left:-70.1px;top:1004.3px;width:400px;text-align:center">3</div>
<div class="t" style="left:156.6px;top:1004.2px">г. Октябрьск, ул. Вокзальная, д. 13</div>
<div class="t" style="left:433.2px;top:1004.0px;width:400px;text-align:center">1900</div>
<div class="t" style="left:520.7px;top:1003.9px;width:400px;text-align:center">09.09.2016</div>
<div class="t" style="left:616.0px;top:1003.9px;width:400px;text-align:center">16,80</div>
<div class="t" style="left:697.2px;top:1003.8px;width:400px;text-align:center">4</div>
<div class="t" style="left:779.9px;top:1003.8px;width:400px;text-align:center">31.12.2023</div>
<div class="t" style="left:875.5px;top:1003.7px;width:400px;text-align:center">193,48</div>
<div class="t" style="left:966.3px;top:1003.7px;width:400px;text-align:center">559,00</div>
<div class="t" style="left:1083.5px;top:1003.6px;width:400px;text-align:center">63:05:0103054:227</div>
<div class="t" style="left:1273.2px;top:1003.5px;width:400px;text-align:center">Сформирован под одним домом</div>
<div class="t" style="left:111.4px;top:1026.4px">Городской округ Самара</div>
<div class="t" style="left:433.2px;top:1026.2px;width:400px;text-align:center">x</div>
<div class="t" style="left:520.7px;top:1026.2px;width:400px;text-align:center">x</div>
<div class="t" style="left:616.0px;top:1026.1px;width:400px;text-align:center">8 393,69</div>
<div class="t" style="left:697.2px;top:1026.1px;width:400px;text-align:center">711</div>
<div class="t" style="left:779.9px;top:1026.0px;width:400px;text-align:center">x</div>
<div class="t" style="left:875.5px;top:1026.0px;width:400px;text-align:center">32 116,27</div>
<div class="t" style="left:966.3px;top:1025.9px;width:400px;text-align:center">34 619,70</div>
<div class="t" style="left:1083.5px;top:1025.9px;width:400px;text-align:center">x</div>
<div class="t" style="left:1273.2px;top:1025.8px;width:400px;text-align:center">x</div>
<div class="t" style="left:-70.0px;top:1048.7px;width:400px;text-align:center">4</div>
<div class="t" style="left:156.7px;top:1048.6px">г. Самара, ул. 128 км, д. 129, лит. А</div>
<div class="t" style="left:433.3px;top:1048.4px;width:400px;text-align:center">1950</div>
<div class="t" style="left:520.8px;top:1048.4px;width:400px;text-align:center">03.09.2012</div>
<div class="t" style="left:616.1px;top:1048.4px;width:400px;text-align:center">27,00</div>
<div class="t" style="left:697.3px;top:1048.3px;width:400px;text-align:center">5</div>
<div class="t" style="left:780.0px;top:1048.3px;width:400px;text-align:center">31.12.2022</div>
<div class="t" style="left:875.6px;top:1048.2px;width:400px;text-align:center">286,40</div>
<div class="t" style="left:966.4px;top:1048.2px;width:400px;text-align:center">1 171,00</div>
<div class="t" style="left:1083.6px;top:1048.1px;width:400px;text-align:center">63:01:0000000:36603</div>
<div class="t" style="left:1273.3px;top:1048.0px;width:400px;text-align:center">Не сформирован</div>
<div class="t" style="left:-70.0px;top:1070.9px;width:400px;text-align:center">5</div>
<div class="t" style="left:156.7px;top:1070.9px">г. Самара, ул. Авроры, д. 12</div>
<div class="t" style="left:433.3px;top:1070.7px;width:400px;text-align:center">1958</div>
<div class="t" style="left:520.8px;top:1070.6px;width:400px;text-align:center">02.11.2016</div>
<div class="t" style="left:616.1px;top:1070.6px;width:400px;text-align:center">42,40</div>
<div class="t" style="left:697.3px;top:1070.5px;width:400px;text-align:center">2</div>
<div class="t" style="left:780.0px;top:1070.5px;width:400px;text-align:center">31.12.2024</div>
<div class="t" style="left:875.6px;top:1070.5px;width:400px;text-align:center">136,00</div>
<div class="t" style="left:966.4px;top:1070.4px;width:400px;text-align:center">0,00</div>
<div class="t" style="left:1083.6px;top:1070.3px;width:400px;text-align:center">отсутствует</div>
<div class="t" style="left:1273.3px;top:1070.2px;width:400px;text-align:center">Не сформирован</div>
</body></html>
